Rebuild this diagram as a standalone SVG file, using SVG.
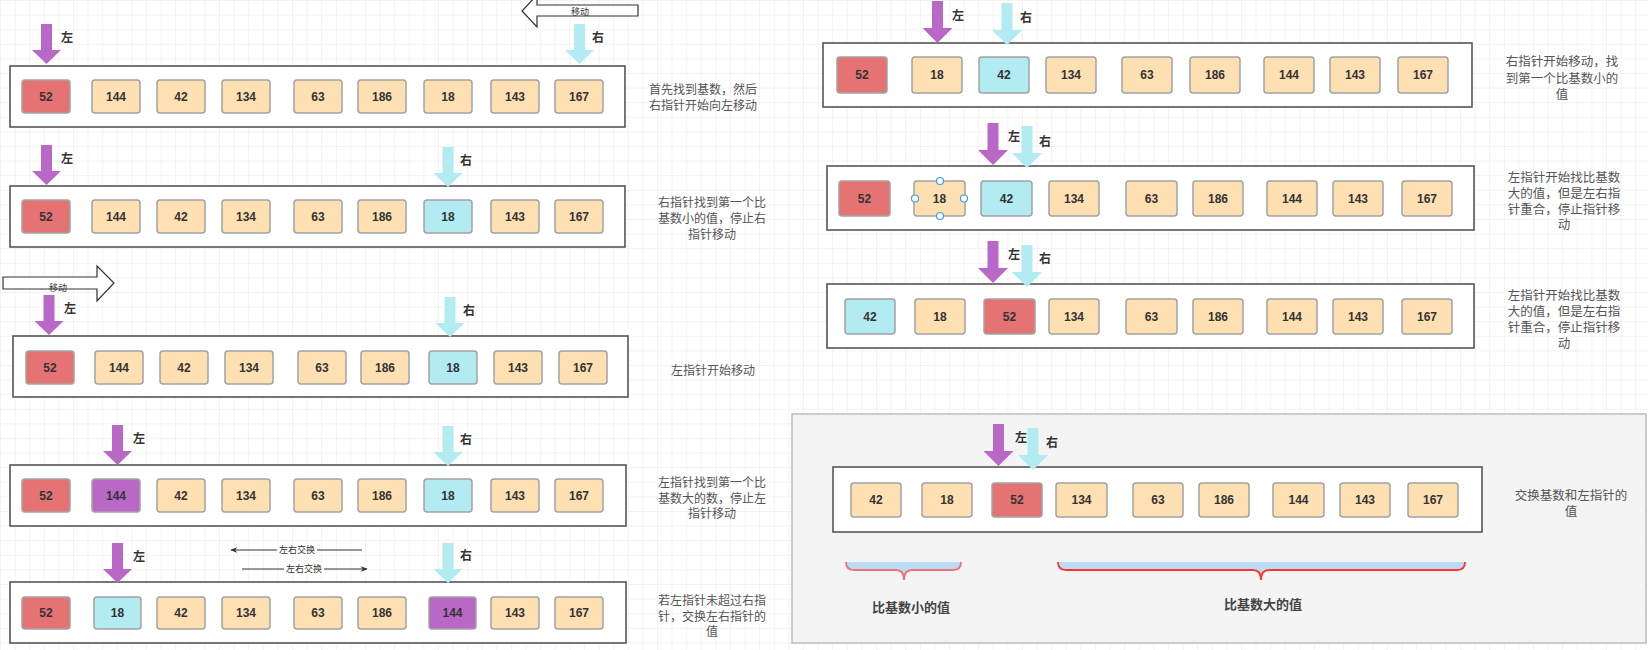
<svg xmlns="http://www.w3.org/2000/svg" xmlns:xlink="http://www.w3.org/1999/xlink" width="1648" height="650" viewBox="0 0 1648 650">
<defs>
<pattern id="grid" patternUnits="userSpaceOnUse" width="14.6" height="14.6">
<path d="M14.6 0 H0 V14.6" fill="none" stroke="#e8e8e8" stroke-width="1"/>
</pattern>
<path id="arrL" d="M-5.5,0 h11 v26 h9 l-14.5,14 l-14.5,-14 h9 z"/>
<path id="arrR" d="M-5.5,0 h11 v27 h9.5 l-15,15 l-15,-15 h9.5 z"/>
<marker id="tri" viewBox="0 0 10 10" refX="9" refY="5" markerWidth="7" markerHeight="7" orient="auto">
<path d="M0,1 L10,5 L0,9 L3,5 z" fill="#333"/>
</marker>
<style>
text{font-family:"Liberation Sans","Noto Sans CJK SC",sans-serif;}
.box{fill:#fff;stroke:#555;stroke-width:1.6;}
.c{stroke:#a2a2a2;stroke-width:1.5;}
.o{fill:#ffe0b3;}
.r{fill:#e57373;}
.b{fill:#b2ebf2;}
.p{fill:#ba68c8;}
.n{font-size:12px;font-weight:bold;fill:#333;text-anchor:middle;dominant-baseline:central;}
.pl{fill:#ba68c8;}
.pr{fill:#b2ebf2;}
.lb{font-size:12px;font-weight:bold;fill:#333;dominant-baseline:central;}
.d{font-size:12px;fill:#555;text-anchor:middle;dominant-baseline:central;}
.dr{font-size:12.5px;fill:#555;text-anchor:middle;dominant-baseline:central;}
.s{font-size:9px;fill:#333;text-anchor:middle;dominant-baseline:central;}
.hollow{fill:#fff;stroke:#333;stroke-width:1.2;}
.edge{stroke:#333;stroke-width:1;fill:none;}
.bt{font-size:13px;font-weight:bold;fill:#444;text-anchor:middle;dominant-baseline:central;}
</style>
</defs>
<rect width="1648" height="650" fill="#fff"/>
<rect width="1648" height="650" fill="url(#grid)"/>

<!-- Row 1 -->
<g id="row1">
<rect class="box" x="10" y="66" width="615" height="61"/>
<g transform="translate(0,80)">
<rect class="c r" x="22" width="48" height="33" rx="3"/><text class="n" x="46" y="16.5">52</text>
<rect class="c o" x="92" width="48" height="33" rx="3"/><text class="n" x="116" y="16.5">144</text>
<rect class="c o" x="157" width="48" height="33" rx="3"/><text class="n" x="181" y="16.5">42</text>
<rect class="c o" x="222" width="48" height="33" rx="3"/><text class="n" x="246" y="16.5">134</text>
<rect class="c o" x="294" width="48" height="33" rx="3"/><text class="n" x="318" y="16.5">63</text>
<rect class="c o" x="358" width="48" height="33" rx="3"/><text class="n" x="382" y="16.5">186</text>
<rect class="c o" x="424" width="48" height="33" rx="3"/><text class="n" x="448" y="16.5">18</text>
<rect class="c o" x="491" width="48" height="33" rx="3"/><text class="n" x="515" y="16.5">143</text>
<rect class="c o" x="555" width="48" height="33" rx="3"/><text class="n" x="579" y="16.5">167</text>
</g>
<use xlink:href="#arrL" class="pl" x="46.5" y="24"/>
<text class="lb" x="61" y="38">左</text>
<use xlink:href="#arrL" class="pr" x="579.5" y="24"/>
<text class="lb" x="592" y="38">右</text>
<path class="hollow" d="M638,5 H537 V-5 L522,11 L537,27 V16 H638 Z"/>
<text class="s" x="580" y="12">移动</text>
<text class="d" x="703" y="90">首先找到基数，然后</text>
<text class="d" x="703" y="106">右指针开始向左移动</text>
</g>

<!-- Row 2 -->
<g id="row2">
<rect class="box" x="10" y="186" width="615" height="61"/>
<g transform="translate(0,200)">
<rect class="c r" x="22" width="48" height="33" rx="3"/><text class="n" x="46" y="16.5">52</text>
<rect class="c o" x="92" width="48" height="33" rx="3"/><text class="n" x="116" y="16.5">144</text>
<rect class="c o" x="157" width="48" height="33" rx="3"/><text class="n" x="181" y="16.5">42</text>
<rect class="c o" x="222" width="48" height="33" rx="3"/><text class="n" x="246" y="16.5">134</text>
<rect class="c o" x="294" width="48" height="33" rx="3"/><text class="n" x="318" y="16.5">63</text>
<rect class="c o" x="358" width="48" height="33" rx="3"/><text class="n" x="382" y="16.5">186</text>
<rect class="c b" x="424" width="48" height="33" rx="3"/><text class="n" x="448" y="16.5">18</text>
<rect class="c o" x="491" width="48" height="33" rx="3"/><text class="n" x="515" y="16.5">143</text>
<rect class="c o" x="555" width="48" height="33" rx="3"/><text class="n" x="579" y="16.5">167</text>
</g>
<use xlink:href="#arrL" class="pl" x="46.5" y="145"/>
<text class="lb" x="61" y="159">左</text>
<use xlink:href="#arrL" class="pr" x="448" y="147"/>
<text class="lb" x="460" y="161">右</text>
<text class="d" x="712" y="203">右指针找到第一个比</text>
<text class="d" x="712" y="219">基数小的值，停止右</text>
<text class="d" x="712" y="235">指针移动</text>
</g>

<!-- Row 3 -->
<g id="row3">
<path class="hollow" d="M3,277 H97 V266 L114,283 L97,301 V289 H3 Z"/>
<text class="s" x="58" y="288">移动</text>
<rect class="box" x="13" y="336" width="615" height="61"/>
<g transform="translate(0,351)">
<rect class="c r" x="26" width="48" height="33" rx="3"/><text class="n" x="50" y="16.5">52</text>
<rect class="c o" x="95" width="48" height="33" rx="3"/><text class="n" x="119" y="16.5">144</text>
<rect class="c o" x="160" width="48" height="33" rx="3"/><text class="n" x="184" y="16.5">42</text>
<rect class="c o" x="225" width="48" height="33" rx="3"/><text class="n" x="249" y="16.5">134</text>
<rect class="c o" x="298" width="48" height="33" rx="3"/><text class="n" x="322" y="16.5">63</text>
<rect class="c o" x="361" width="48" height="33" rx="3"/><text class="n" x="385" y="16.5">186</text>
<rect class="c b" x="429" width="48" height="33" rx="3"/><text class="n" x="453" y="16.5">18</text>
<rect class="c o" x="494" width="48" height="33" rx="3"/><text class="n" x="518" y="16.5">143</text>
<rect class="c o" x="559" width="48" height="33" rx="3"/><text class="n" x="583" y="16.5">167</text>
</g>
<use xlink:href="#arrL" class="pl" x="49" y="295"/>
<text class="lb" x="64" y="309">左</text>
<use xlink:href="#arrL" class="pr" x="450" y="297"/>
<text class="lb" x="463" y="311">右</text>
<text class="d" x="713" y="371">左指针开始移动</text>
</g>

<!-- Row 4 -->
<g id="row4">
<rect class="box" x="10" y="465" width="616" height="61"/>
<g transform="translate(0,479)">
<rect class="c r" x="22" width="48" height="33" rx="3"/><text class="n" x="46" y="16.5">52</text>
<rect class="c p" x="92" width="48" height="33" rx="3"/><text class="n" x="116" y="16.5">144</text>
<rect class="c o" x="157" width="48" height="33" rx="3"/><text class="n" x="181" y="16.5">42</text>
<rect class="c o" x="222" width="48" height="33" rx="3"/><text class="n" x="246" y="16.5">134</text>
<rect class="c o" x="294" width="48" height="33" rx="3"/><text class="n" x="318" y="16.5">63</text>
<rect class="c o" x="358" width="48" height="33" rx="3"/><text class="n" x="382" y="16.5">186</text>
<rect class="c b" x="424" width="48" height="33" rx="3"/><text class="n" x="448" y="16.5">18</text>
<rect class="c o" x="491" width="48" height="33" rx="3"/><text class="n" x="515" y="16.5">143</text>
<rect class="c o" x="555" width="48" height="33" rx="3"/><text class="n" x="579" y="16.5">167</text>
</g>
<use xlink:href="#arrL" class="pl" x="117.5" y="425"/>
<text class="lb" x="133" y="439">左</text>
<use xlink:href="#arrL" class="pr" x="448" y="426"/>
<text class="lb" x="460" y="440">右</text>
<text class="d" x="712" y="483">左指针找到第一个比</text>
<text class="d" x="712" y="499">基数大的数，停止左</text>
<text class="d" x="712" y="514">指针移动</text>
</g>

<!-- Row 5 -->
<g id="row5">
<rect class="box" x="10" y="582" width="616" height="61"/>
<g transform="translate(0,597)">
<rect class="c r" x="22" width="48" height="32" rx="3"/><text class="n" x="46" y="16">52</text>
<rect class="c b" x="94" width="47" height="32" rx="3"/><text class="n" x="117.5" y="16">18</text>
<rect class="c o" x="157" width="48" height="32" rx="3"/><text class="n" x="181" y="16">42</text>
<rect class="c o" x="222" width="48" height="32" rx="3"/><text class="n" x="246" y="16">134</text>
<rect class="c o" x="294" width="48" height="32" rx="3"/><text class="n" x="318" y="16">63</text>
<rect class="c o" x="358" width="48" height="32" rx="3"/><text class="n" x="382" y="16">186</text>
<rect class="c p" x="429" width="47" height="32" rx="3"/><text class="n" x="452.5" y="16">144</text>
<rect class="c o" x="491" width="48" height="32" rx="3"/><text class="n" x="515" y="16">143</text>
<rect class="c o" x="555" width="48" height="32" rx="3"/><text class="n" x="579" y="16">167</text>
</g>
<use xlink:href="#arrL" class="pl" x="117.5" y="543"/>
<text class="lb" x="133" y="557">左</text>
<use xlink:href="#arrL" class="pr" x="448" y="543"/>
<text class="lb" x="460" y="556">右</text>
<text class="d" x="712" y="601">若左指针未超过右指</text>
<text class="d" x="712" y="617">针，交换左右指针的</text>
<text class="d" x="712" y="632">值</text>
</g>

<!-- Swap connectors -->
<g id="connectors">
<line class="edge" x1="362" y1="550" x2="231" y2="550" marker-end="url(#tri)"/>
<rect x="277" y="544" width="40" height="12" fill="#fff"/>
<text class="s" x="297" y="550">左右交换</text>
<line class="edge" x1="242" y1="569" x2="367" y2="569" marker-end="url(#tri)"/>
<rect x="284" y="563" width="40" height="12" fill="#fff"/>
<text class="s" x="304" y="569">左右交换</text>
</g>

<!-- Right R1 -->
<g id="rrow1">
<rect class="box" x="823" y="43" width="649" height="64"/>
<g transform="translate(0,57)">
<rect class="c r" x="837" width="50" height="36" rx="3"/><text class="n" x="862" y="18">52</text>
<rect class="c o" x="912" width="50" height="36" rx="3"/><text class="n" x="937" y="18">18</text>
<rect class="c b" x="979" width="50" height="36" rx="3"/><text class="n" x="1004" y="18">42</text>
<rect class="c o" x="1046" width="50" height="36" rx="3"/><text class="n" x="1071" y="18">134</text>
<rect class="c o" x="1122" width="50" height="36" rx="3"/><text class="n" x="1147" y="18">63</text>
<rect class="c o" x="1190" width="50" height="36" rx="3"/><text class="n" x="1215" y="18">186</text>
<rect class="c o" x="1264" width="50" height="36" rx="3"/><text class="n" x="1289" y="18">144</text>
<rect class="c o" x="1330" width="50" height="36" rx="3"/><text class="n" x="1355" y="18">143</text>
<rect class="c o" x="1398" width="50" height="36" rx="3"/><text class="n" x="1423" y="18">167</text>
</g>
<use xlink:href="#arrR" class="pl" x="937.5" y="1"/>
<text class="lb" x="952" y="16">左</text>
<use xlink:href="#arrR" class="pr" x="1007" y="3"/>
<text class="lb" x="1020" y="18">右</text>
<text class="dr" x="1562" y="62">右指针开始移动，找</text>
<text class="dr" x="1562" y="79">到第一个比基数小的</text>
<text class="dr" x="1562" y="95">值</text>
</g>

<!-- Right R2 -->
<g id="rrow2">
<rect class="box" x="827" y="166" width="647" height="64"/>
<g transform="translate(0,181)">
<rect class="c r" x="839" width="51" height="35" rx="3"/><text class="n" x="864.5" y="17.5">52</text>
<rect class="c o" x="914" width="51" height="35" rx="3"/><text class="n" x="939.5" y="17.5">18</text>
<rect class="c b" x="981" width="51" height="35" rx="3"/><text class="n" x="1006.5" y="17.5">42</text>
<rect class="c o" x="1049" width="50" height="35" rx="3"/><text class="n" x="1074" y="17.5">134</text>
<rect class="c o" x="1126" width="51" height="35" rx="3"/><text class="n" x="1151.5" y="17.5">63</text>
<rect class="c o" x="1193" width="50" height="35" rx="3"/><text class="n" x="1218" y="17.5">186</text>
<rect class="c o" x="1267" width="50" height="35" rx="3"/><text class="n" x="1292" y="17.5">144</text>
<rect class="c o" x="1333" width="50" height="35" rx="3"/><text class="n" x="1358" y="17.5">143</text>
<rect class="c o" x="1402" width="50" height="35" rx="3"/><text class="n" x="1427" y="17.5">167</text>
<g fill="#fff" stroke="#3a9df0" stroke-width="1.2">
<circle cx="940" cy="0" r="3.5"/><circle cx="940" cy="35" r="3.5"/>
<circle cx="915" cy="17.5" r="3.5"/><circle cx="964" cy="17.5" r="3.5"/>
</g>
</g>
<use xlink:href="#arrR" class="pl" x="993" y="123"/>
<text class="lb" x="1008" y="137">左</text>
<use xlink:href="#arrR" class="pr" x="1027" y="126"/>
<text class="lb" x="1039" y="142">右</text>
<text class="dr" x="1564" y="178">左指针开始找比基数</text>
<text class="dr" x="1564" y="194">大的值，但是左右指</text>
<text class="dr" x="1564" y="210">针重合，停止指针移</text>
<text class="dr" x="1564" y="225">动</text>
</g>

<!-- Right R3 -->
<g id="rrow3">
<rect class="box" x="827" y="284" width="647" height="64"/>
<g transform="translate(0,299)">
<rect class="c b" x="845" width="50" height="35" rx="3"/><text class="n" x="870" y="17.5">42</text>
<rect class="c o" x="915" width="50" height="35" rx="3"/><text class="n" x="940" y="17.5">18</text>
<rect class="c r" x="984" width="51" height="35" rx="3"/><text class="n" x="1009.5" y="17.5">52</text>
<rect class="c o" x="1049" width="50" height="35" rx="3"/><text class="n" x="1074" y="17.5">134</text>
<rect class="c o" x="1126" width="51" height="35" rx="3"/><text class="n" x="1151.5" y="17.5">63</text>
<rect class="c o" x="1193" width="50" height="35" rx="3"/><text class="n" x="1218" y="17.5">186</text>
<rect class="c o" x="1267" width="50" height="35" rx="3"/><text class="n" x="1292" y="17.5">144</text>
<rect class="c o" x="1333" width="50" height="35" rx="3"/><text class="n" x="1358" y="17.5">143</text>
<rect class="c o" x="1402" width="50" height="35" rx="3"/><text class="n" x="1427" y="17.5">167</text>
</g>
<use xlink:href="#arrR" class="pl" x="993" y="241"/>
<text class="lb" x="1008" y="255">左</text>
<use xlink:href="#arrR" class="pr" x="1027" y="245"/>
<text class="lb" x="1039" y="259">右</text>
<text class="dr" x="1564" y="296">左指针开始找比基数</text>
<text class="dr" x="1564" y="312">大的值，但是左右指</text>
<text class="dr" x="1564" y="328">针重合，停止指针移</text>
<text class="dr" x="1564" y="344">动</text>
</g>

<!-- Right R4 container -->
<g id="rrow4">
<rect x="792" y="414" width="854" height="229" fill="#f4f4f4" stroke="#bdbdbd" stroke-width="1.5"/>
<rect class="box" x="833" y="467" width="649" height="65"/>
<g transform="translate(0,483)">
<rect class="c o" x="851" width="50" height="34" rx="3"/><text class="n" x="876" y="17">42</text>
<rect class="c o" x="922" width="50" height="34" rx="3"/><text class="n" x="947" y="17">18</text>
<rect class="c r" x="992" width="50" height="34" rx="3"/><text class="n" x="1017" y="17">52</text>
<rect class="c o" x="1056" width="51" height="34" rx="3"/><text class="n" x="1081.5" y="17">134</text>
<rect class="c o" x="1133" width="50" height="34" rx="3"/><text class="n" x="1158" y="17">63</text>
<rect class="c o" x="1199" width="50" height="34" rx="3"/><text class="n" x="1224" y="17">186</text>
<rect class="c o" x="1273" width="51" height="34" rx="3"/><text class="n" x="1298.5" y="17">144</text>
<rect class="c o" x="1340" width="50" height="34" rx="3"/><text class="n" x="1365" y="17">143</text>
<rect class="c o" x="1408" width="50" height="34" rx="3"/><text class="n" x="1433" y="17">167</text>
</g>
<use xlink:href="#arrR" class="pl" x="998.5" y="424"/>
<text class="lb" x="1015" y="438">左</text>
<use xlink:href="#arrR" class="pr" x="1033" y="428"/>
<text class="lb" x="1046" y="443">右</text>
<path d="M846,562 Q846,570 854,570 H896 Q904,570 904,580 Q904,570 912,570 H953 Q961,570 961,562 Z" fill="#bcdcf6" stroke="none"/>
<path d="M846,562 Q846,570 854,570 H896 Q904,570 904,580 Q904,570 912,570 H953 Q961,570 961,562" fill="none" stroke="#f07070" stroke-width="1.8"/>
<path d="M1058,562 Q1058,570 1066,570 H1253 Q1261,570 1261,580 Q1261,570 1269,570 H1457 Q1465,570 1465,562 Z" fill="#bcdcf6" stroke="none"/>
<path d="M1058,562 Q1058,570 1066,570 H1253 Q1261,570 1261,580 Q1261,570 1269,570 H1457 Q1465,570 1465,562" fill="none" stroke="#ff3333" stroke-width="1.8"/>
<text class="bt" x="911" y="607">比基数小的值</text>
<text class="bt" x="1263" y="604">比基数大的值</text>
<text class="dr" x="1571" y="496">交换基数和左指针的</text>
<text class="dr" x="1571" y="512">值</text>
</g>
</svg>
